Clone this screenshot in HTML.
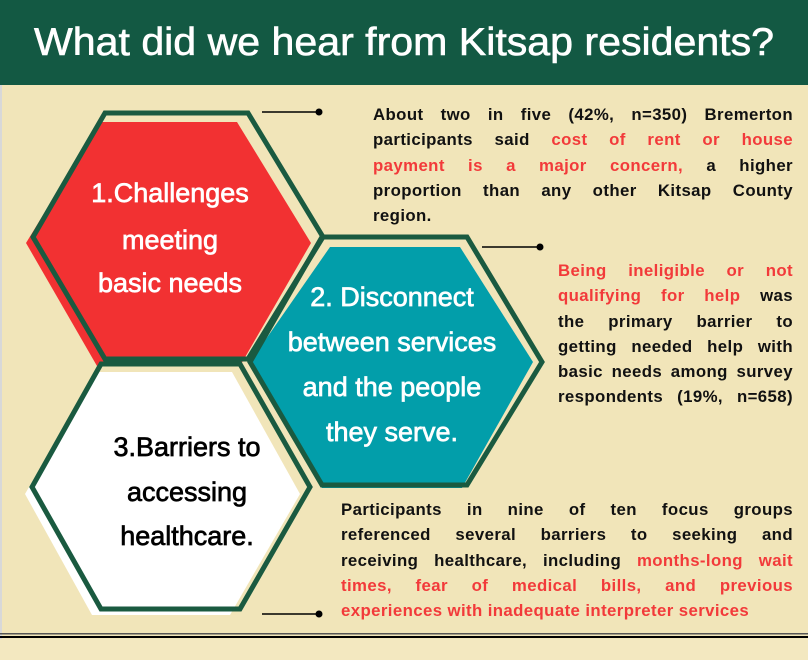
<!DOCTYPE html>
<html><head><meta charset="utf-8"><style>
html,body{margin:0;padding:0}
body{width:808px;height:660px;position:relative;overflow:hidden;background:#f1e5b9;font-family:"Liberation Sans",sans-serif}
.p{position:absolute;font-weight:bold;font-size:16.8px;line-height:25.3px;letter-spacing:0.4px;color:#111}
.p div{text-align:justify;text-align-last:justify;white-space:nowrap}
.p div.l{text-align-last:left}
.r{color:#f23a3a}
</style></head><body>
<svg width="808" height="660" style="position:absolute;left:0;top:0">
<rect x="0" y="0" width="808" height="660" fill="#f1e5b9"/>
<rect x="0" y="0" width="2" height="660" fill="#d8d8d8"/>
<rect x="0" y="0" width="808" height="85" fill="#135943"/>
<text x="404" y="55" text-anchor="middle" fill="#fff" stroke="#fff" stroke-width="0.6" font-family="Liberation Sans, sans-serif" font-size="39" textLength="740" lengthAdjust="spacingAndGlyphs">What did we hear from Kitsap residents?</text>
<polygon points="100,122 237,122 311,243 240,366 97,366 26,243" fill="#f23132"/>
<polygon points="105,113 248,113 323,237 248,359 105,359 33,237" fill="none" stroke="#1a5a40" stroke-width="5"/>
<polygon points="96,372 232,372 300,494 230,615 92,615 25,494" fill="#fff"/>
<polygon points="101,364 240,364 310,487 240,609 101,609 32,487" fill="none" stroke="#1a5a40" stroke-width="5"/>
<polygon points="330,247 460,247 533,362 462,488 322,488 250,362" fill="#029eaa"/>
<polygon points="322,237 467,237 542,362 467,485 322,485 250,362" fill="none" stroke="#1a5a40" stroke-width="5"/>
<g font-family="Liberation Sans, sans-serif" font-size="27" text-anchor="middle" stroke-width="0.7">
<text x="170" y="202" fill="#fff" stroke="#fff">1.Challenges</text>
<text x="170" y="249" fill="#fff" stroke="#fff">meeting</text>
<text x="170" y="292" fill="#fff" stroke="#fff">basic needs</text>
<text x="392" y="306" fill="#fff" stroke="#fff">2. Disconnect</text>
<text x="392" y="351" fill="#fff" stroke="#fff">between services</text>
<text x="392" y="396" fill="#fff" stroke="#fff">and the people</text>
<text x="392" y="441" fill="#fff" stroke="#fff">they serve.</text>
<text x="187" y="456" fill="#000" stroke="#000">3.Barriers to</text>
<text x="187" y="501" fill="#000" stroke="#000">accessing</text>
<text x="187" y="545" fill="#000" stroke="#000">healthcare.</text>
</g>
<line x1="262" y1="112" x2="318" y2="112" stroke="#000" stroke-width="1.5"/><circle cx="319" cy="112" r="3.5"/>
<line x1="482" y1="247" x2="539" y2="247" stroke="#000" stroke-width="1.5"/><circle cx="540" cy="247" r="3.5"/>
<line x1="262" y1="614" x2="318" y2="614" stroke="#000" stroke-width="1.5"/><circle cx="319" cy="614" r="3.5"/>
<rect x="0" y="633" width="808" height="1.5" fill="#555"/>
<rect x="0" y="636" width="808" height="2" fill="#000"/>
<rect x="0" y="639" width="808" height="21" fill="#f3e8c0"/>
</svg>
<div class="p" style="left:373px;top:102px;width:420px">
<div>About two in five (42%, n=350) Bremerton</div>
<div>participants said <span class="r">cost of rent or house</span></div>
<div><span class="r">payment is a major concern,</span> a higher</div>
<div>proportion than any other Kitsap County</div>
<div class="l">region.</div>
</div>
<div class="p" style="left:558px;top:258px;width:235px">
<div><span class="r">Being ineligible or not</span></div>
<div><span class="r">qualifying for help</span> was</div>
<div>the primary barrier to</div>
<div>getting needed help with</div>
<div>basic needs among survey</div>
<div>respondents (19%, n=658)</div>
</div>
<div class="p" style="left:341px;top:497px;width:452px">
<div>Participants in nine of ten focus groups</div>
<div>referenced several barriers to seeking and</div>
<div>receiving healthcare, including <span class="r">months-long wait</span></div>
<div><span class="r">times, fear of medical bills, and previous</span></div>
<div class="r l">experiences with inadequate interpreter services</div>
</div>
</body></html>
